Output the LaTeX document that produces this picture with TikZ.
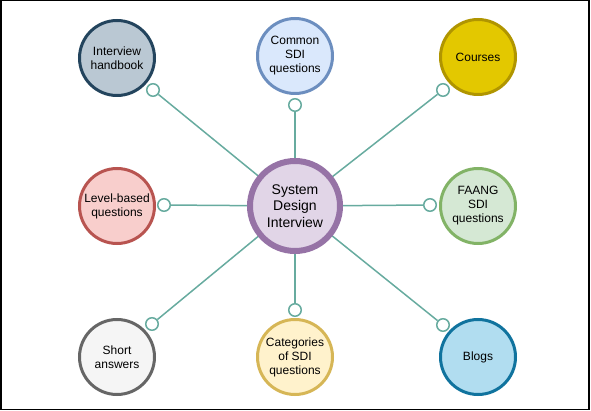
\documentclass[tikz,border=0pt]{standalone}
\usepackage{fontspec}
\setmainfont{Liberation Sans}
\definecolor{teal1}{HTML}{67AB9F}
\definecolor{ihF}{HTML}{BAC8D3}\definecolor{ihD}{HTML}{23445D}
\definecolor{csF}{HTML}{DAE8FC}\definecolor{csD}{HTML}{6C8EBF}
\definecolor{coF}{HTML}{E3C800}\definecolor{coD}{HTML}{B09500}
\definecolor{lbF}{HTML}{F8CECC}\definecolor{lbD}{HTML}{B85450}
\definecolor{ceF}{HTML}{E1D5E7}\definecolor{ceD}{HTML}{9673A6}
\definecolor{faF}{HTML}{D5E8D4}\definecolor{faD}{HTML}{82B366}
\definecolor{saF}{HTML}{F5F5F5}\definecolor{saD}{HTML}{666666}
\definecolor{caF}{HTML}{FFF2CC}\definecolor{caD}{HTML}{D6B656}
\definecolor{blF}{HTML}{B1DDF0}\definecolor{blD}{HTML}{10739E}
\begin{document}
\begin{tikzpicture}[x=1pt,y=-1pt,
  topic/.style={circle,line width=3pt,minimum size=75pt,inner sep=0pt,align=center,font=\fontsize{12}{14}\selectfont},
  hub/.style={circle,line width=6pt,minimum size=90pt,inner sep=0pt,align=center,font=\fontsize{14}{16.5}\selectfont,draw=ceD,fill=ceF},
  dot/.style={circle,draw=teal1,fill=white,line width=1.5pt,minimum size=12.5pt,inner sep=0pt},
  link/.style={draw=teal1,line width=1.5pt}]
\useasboundingbox (0,0) rectangle (591,411);
\draw[line width=1.5pt] (0.75,0.75) rectangle (589,409.5);
% end dots
\node[dot] (d1) at (153,90) {};
\node[dot] (d2) at (295,105) {};
\node[dot] (d3) at (443,90) {};
\node[dot] (d4) at (164,205) {};
\node[dot] (d5) at (430,205) {};
\node[dot] (d6) at (152,324) {};
\node[dot] (d7) at (295,310) {};
\node[dot] (d8) at (443,325) {};
% hub position coordinate for links
\coordinate (hc) at (295,206);
\foreach \d in {d1,d2,d3,d4,d5,d6,d7,d8} \path[link] (hc) -- (\d);
% topics
\node[topic,draw=ihD,fill=ihF] (ih) at (117,58) {Interview\\handbook};
\node[topic,draw=csD,fill=csF] (cs) at (295,56) {Common\\SDI\\questions};
\node[topic,draw=coD,fill=coF] (co) at (478,57) {Courses};
\node[topic,draw=lbD,fill=lbF] (lb) at (117,206) {Level-based\\questions};
\node[topic,draw=faD,fill=faF] (fa) at (478,206) {FAANG\\SDI\\questions};
\node[topic,draw=saD,fill=saF] (sa) at (117,357) {Short\\answers};
\node[topic,draw=caD,fill=caF] (ca) at (295,357) {Categories\\of SDI\\questions};
\node[topic,draw=blD,fill=blF] (bl) at (478,357) {Blogs};
\node[hub] (hub) at (hc) {System\\Design\\Interview};
\end{tikzpicture}
\end{document}
